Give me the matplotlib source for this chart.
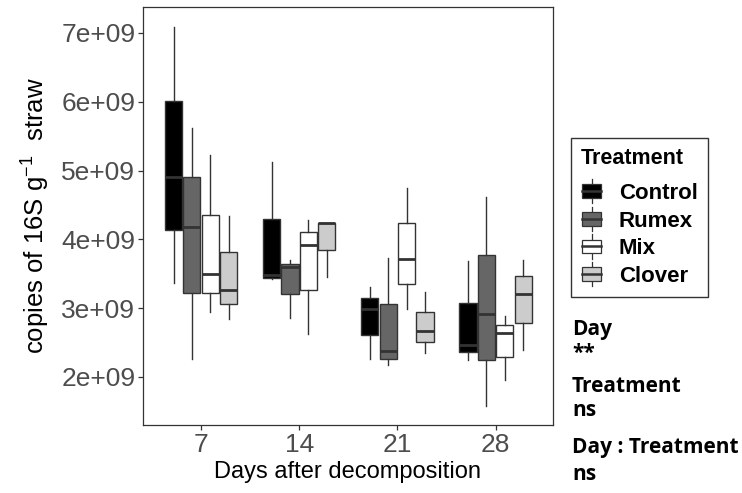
import matplotlib
matplotlib.use("Agg")
import matplotlib.pyplot as plt
from matplotlib.patches import Rectangle
from matplotlib.lines import Line2D
from matplotlib.legend_handler import HandlerBase
import numpy as np

plt.rcParams['font.family'] = ['Liberation Sans', 'DejaVu Sans']
plt.rcParams['mathtext.fontset'] = 'custom'
plt.rcParams['mathtext.rm'] = 'Liberation Sans'
plt.rcParams['mathtext.it'] = 'Liberation Sans'

days = ["7", "14", "21", "28"]
treatments = ["Control", "Rumex", "Mix", "Clover"]
fill_colors = ["#000000", "#666666", "#ffffff", "#cccccc"]

# values in units of 1e9: [whislo, q1, median, q3, whishi]
control = [[3.37, 4.14, 4.91, 6.01, 7.09],
           [3.42, 3.44, 3.48, 4.30, 5.12],
           [2.26, 2.615, 2.98, 3.14, 3.30],
           [2.25, 2.36, 2.47, 3.08, 3.68]]
rumex = [[2.26, 3.22, 4.185, 4.907, 5.62],
         [2.85, 3.21, 3.60, 3.64, 3.70],
         [2.17, 2.26, 2.38, 3.06, 3.73],
         [1.57, 2.24, 2.92, 3.77, 4.62]]
mix = [[2.95, 3.22, 3.50, 4.36, 5.22],
       [2.62, 3.26, 3.92, 4.10, 4.28],
       [2.99, 3.35, 3.71, 4.23, 4.74],
       [1.95, 2.29, 2.64, 2.76, 2.88]]
clover = [[2.84, 3.06, 3.27, 3.81, 4.34],
          [3.45, 3.85, 4.23, 4.24, 4.24],
          [2.35, 2.51, 2.67, 2.95, 3.23],
          [2.39, 2.79, 3.21, 3.46, 3.70]]
series = [control, rumex, mix, clover]

yticks = [2e9, 3e9, 4e9, 5e9, 6e9, 7e9]
ytick_labels = ["2e+09", "3e+09", "4e+09", "5e+09", "6e+09", "7e+09"]

fig = plt.figure(figsize=(7.42, 4.93), dpi=100)
ax = fig.add_axes([143/742, 1-425/493, (553-143)/742, (425-7)/493])

edge = "#333333"
dodge = 0.1875
width = 0.175
for ti, (tname, data, fc) in enumerate(zip(treatments, series, fill_colors)):
    stats = []
    for di, v in enumerate(data):
        stats.append(dict(whislo=v[0]*1e9, q1=v[1]*1e9, med=v[2]*1e9,
                          q3=v[3]*1e9, whishi=v[4]*1e9, fliers=[]))
    positions = [di + 1 + (ti - 1.5) * dodge for di in range(len(days))]
    ax.bxp(stats, positions=positions, widths=width, patch_artist=True,
           showcaps=False, manage_ticks=False,
           boxprops=dict(facecolor=fc, edgecolor=edge, linewidth=1.0),
           whiskerprops=dict(color=edge, linewidth=1.0),
           medianprops=dict(color=edge, linewidth=2.0, solid_capstyle='butt'))

ax.set_xlim(0.408, 4.585)
ax.set_ylim(1.30e9, 7.378e9)
ax.set_xticks(range(1, len(days)+1))
ax.set_xticklabels(days)
ax.set_yticks(yticks)
ax.set_yticklabels(ytick_labels)
ax.tick_params(axis='both', colors=edge, labelcolor="#4d4d4d", labelsize=19,
               length=3.5, width=0.9, pad=2)
for s in ax.spines.values():
    s.set_color(edge)
    s.set_linewidth(0.9)

ax.set_xlabel("Days after decomposition", fontsize=17, color="black", labelpad=3)
ax.set_ylabel(r"copies of 16S g$^{\mathrm{-1}}$  straw", fontsize=18.5, color="black", labelpad=7)


class BoxHandler(HandlerBase):
    def __init__(self, fc):
        super().__init__()
        self.fc = fc

    def create_artists(self, legend, orig_handle, xdescent, ydescent, width, height, fontsize, trans):
        cx = width / 2 - xdescent
        bw = width * 0.9
        bh = height * 0.85
        y0 = (height - bh) / 2 - ydescent
        wl = Line2D([cx, cx], [-ydescent - height*0.25, height - ydescent + height*0.25],
                    color=edge, linewidth=0.9, transform=trans)
        r = Rectangle((cx - bw/2, y0), bw, bh, facecolor=self.fc, edgecolor=edge,
                      linewidth=0.9, transform=trans)
        m = Line2D([cx - bw/2, cx + bw/2], [y0 + bh/2, y0 + bh/2], color=edge,
                   linewidth=1.8, transform=trans)
        return [wl, r, m]


handles = [Rectangle((0, 0), 1, 1, facecolor=fc) for fc in fill_colors]
handler_map = {h: BoxHandler(fc) for h, fc in zip(handles, fill_colors)}
leg = fig.legend(handles, treatments, handler_map=handler_map,
                 loc="upper left", bbox_to_anchor=(571/742, 1-138/493),
                 title="Treatment", frameon=True, fancybox=False,
                 prop=dict(family='Liberation Sans', weight='bold', size=16),
                 title_fontproperties=dict(family='Liberation Sans', weight='bold', size=15.5),
                 handlelength=0.95, handleheight=0.75, handletextpad=0.75,
                 labelspacing=0.3, borderpad=0.45, borderaxespad=0)
leg._legend_box.align = "left"
leg._legend_box.sep = 10
leg.get_frame().set_edgecolor("black")
leg.get_frame().set_linewidth(1.0)

notes = ["Day", "**", "Treatment", "ns", "Day : Treatment", "ns"]
note_y = [330, 353, 386, 411, 447, 474]
for t, y in zip(notes, note_y):
    fig.text(572/742, 1 - y/493, t, fontsize=15, fontweight='bold',
             family=['Open Sans', 'DejaVu Sans'], va='center', ha='left')

fig.savefig("out.png", dpi=100)
